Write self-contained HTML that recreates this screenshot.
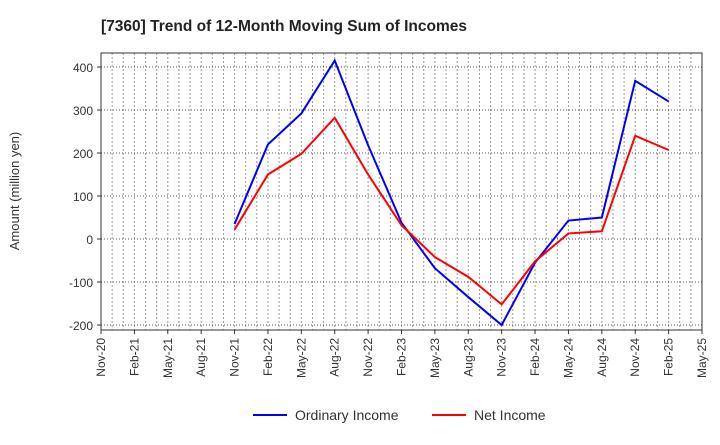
<!DOCTYPE html>
<html><head><meta charset="utf-8"><style>
body{margin:0;background:#fff;font-family:"Liberation Sans",Arial,sans-serif}
svg text{font-family:"Liberation Sans",Arial,sans-serif}
</style></head><body>
<svg id="c" width="720" height="440" xmlns="http://www.w3.org/2000/svg">
<text x="101" y="31" font-size="15.5" font-weight="bold" fill="#222">[7360]  Trend of 12-Month Moving Sum of Incomes</text>
<text transform="translate(19,191) rotate(-90)" text-anchor="middle" font-size="13" fill="#333">Amount (million yen)</text>
<g id="grid"></g><g id="axes"></g><g id="series"></g>
<g>
<line x1="253" y1="415" x2="287" y2="415" stroke="#0000ff" stroke-width="2"/>
<text x="295" y="420" font-size="14" fill="#333">Ordinary Income</text>
<line x1="432" y1="415" x2="466" y2="415" stroke="#ff0000" stroke-width="2"/>
<text x="474" y="420" font-size="14" fill="#333">Net Income</text>
</g>
</svg>
<script>
const xLabels=["Nov-20","Feb-21","May-21","Aug-21","Nov-21","Feb-22","May-22","Aug-22","Nov-22","Feb-23","May-23","Aug-23","Nov-23","Feb-24","May-24","Aug-24","Nov-24","Feb-25","May-25"];
const yTicks=[400,300,200,100,0,-100,-200];
const categories=["Nov-21","Feb-22","May-22","Aug-22","Nov-22","Feb-23","May-23","Aug-23","Nov-23","Feb-24","May-24","Aug-24","Nov-24","Feb-25"];
const ordinaryIncome=[35,220,292,415,218,38,-68,-135,-200,-55,43,50,368,320];
const netIncome=[22,150,198,282,150,32,-42,-88,-152,-52,13,18,240,207];
const L=101,R=702,T=53,B=330,yMax=432.6,yMin=-211.6;
const x=i=>L+(R-L)*i/(xLabels.length-1);
const y=v=>T+(yMax-v)/(yMax-yMin)*(B-T);
const NS="http://www.w3.org/2000/svg";
function mk(tag,attrs,parent){const e=document.createElementNS(NS,tag);for(const k in attrs)e.setAttribute(k,attrs[k]);document.getElementById(parent).appendChild(e);return e;}
for(let m=1;m<(xLabels.length-1)*3;m++){const xx=L+(R-L)*m/((xLabels.length-1)*3);
 const g=mk('line',{x1:xx,x2:xx,y1:T,y2:B,stroke:'#999','stroke-dasharray':'2,2'},'grid');
 
 }
yTicks.forEach(v=>{const g=mk('line',{x1:L,x2:R,y1:y(v),y2:y(v),stroke:'#555','stroke-dasharray':'1,2'},'grid');
 
 
 const t=mk('text',{x:L-8,y:y(v)+5,'text-anchor':'end','font-size':'12',fill:'#333'},'axes');t.textContent=v;
 
 
 mk('line',{x1:L-4,x2:L,y1:y(v),y2:y(v),stroke:'#333'},'axes');});
xLabels.forEach((s,i)=>{const t=mk('text',{transform:`translate(${x(i)+4},${B+8}) rotate(-90)`,'text-anchor':'end','font-size':'12',fill:'#333'},'axes');t.textContent=s;
 
 
 mk('line',{x1:x(i),x2:x(i),y1:B,y2:B+4,stroke:'#333'},'axes');});
const fr=mk('rect',{x:L,y:T,width:R-L,height:B-T,fill:'none',stroke:'#333'},'axes');


const off=xLabels.indexOf(categories[0]);
function line(data,color,name){const p=mk('polyline',{points:data.map((v,i)=>x(off+i)+','+y(v)).join(' '),fill:'none',stroke:color,'stroke-width':2},'series');
 
 }
line(ordinaryIncome,'#0000ff','ordinary-income-line');
line(netIncome,'#ff0000','net-income-line');
</script>
</body></html>
